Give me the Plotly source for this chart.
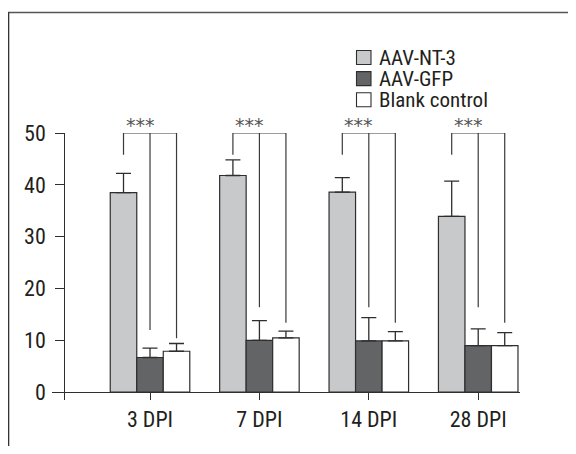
import plotly.graph_objects as go

# ---- data ----
groups = ["3 DPI", "7 DPI", "14 DPI", "28 DPI"]
series_names = ["AAV-NT-3", "AAV-GFP", "Blank control"]
nt3 = [38.5, 41.8, 38.6, 33.9]
nt3_err = [3.7, 3.0, 2.8, 6.8]
gfp = [6.7, 10.0, 9.9, 9.0]
gfp_err = [1.8, 3.8, 4.5, 3.2]
blank = [7.9, 10.5, 9.9, 9.0]
blank_err = [1.5, 1.3, 1.8, 2.5]
# significance brackets: top level and leg bottoms (left, middle, right)
bracket_top = [50, 50, 50, 50]
leg_left = [45.8, 45.8, 45.8, 45.8]
leg_mid = [12.0, 16.4, 16.4, 16.4]
leg_right = [10.4, 13.4, 13.4, 13.4]
sig_labels = ["***", "***", "***", "***"]
y_ticks = [0, 10, 20, 30, 40, 50]

# ---- geometry (page body has an 8px margin, so shift by 8) ----
OFF = 8
W, H = 576 - OFF, 454 - 2 * OFF
ML, MR, MT, MB = 52 - OFF, W - (520 - OFF), 133 - OFF, H - (400 - OFF)
PW, PH = W - ML - MR, H - MT - MB
def px2x(px):
    return (px - OFF - ML) / PW
def py2y(py):
    return (H - MB - (py - OFF)) / PH

fills = ["#c8c9cb", "#636466", "#ffffff"]
edge = "#2e2e2e"
txt = "#231f20"
FONT = "Roboto Condensed, DejaVu Sans Condensed, sans-serif"
BARGAP = 0.273
bw = (1 - BARGAP) / 3

fig = go.Figure()
for name, vals, errs, col in zip(series_names, [nt3, gfp, blank],
                                 [nt3_err, gfp_err, blank_err], fills):
    fig.add_trace(go.Bar(
        x=groups, y=vals, name=name, showlegend=False,
        marker=dict(color=col, line=dict(color=edge, width=1.2)),
        error_y=dict(type="data", array=errs, arrayminus=[0] * len(errs),
                     symmetric=False, color=edge, thickness=1.3, width=7.5),
    ))

# brackets
for i in range(len(groups)):
    xl, xm, xr = i - bw, i, i + bw
    top = bracket_top[i]
    fig.add_trace(go.Scatter(
        x=[xl, xl, xr, xr, None, xm, xm],
        y=[leg_left[i], top, top, leg_right[i], None, top, leg_mid[i]],
        mode="lines", line=dict(color="#3a3a3a", width=1.2),
        showlegend=False, hoverinfo="skip", cliponaxis=False,
        xaxis="x2",
    ))
    fig.add_annotation(x=i - 0.09, y=top, xref="x2", yref="y", text=sig_labels[i],
                       showarrow=False, yanchor="bottom", yshift=-5,
                       font=dict(family="DejaVu Sans", size=19, color="#555555"))

fig.update_layout(
    width=W, height=H,
    margin=dict(l=ML, r=MR, t=MT, b=MB, pad=0),
    paper_bgcolor="white", plot_bgcolor="white",
    barmode="group", bargap=BARGAP, bargroupgap=0,
    font=dict(family=FONT, size=22, color=txt),
    xaxis=dict(
        type="category", range=[-0.896, 3.382],
        anchor="free", position=1.5 / 51.5,
        showline=True, linecolor=edge, linewidth=1.3,
        ticks="outside", ticklen=7, tickwidth=1.3, tickcolor=edge,
        showgrid=False, zeroline=False,
        tickfont=dict(family=FONT, size=22, color=txt),
    ),
    xaxis2=dict(range=[-0.896, 3.382], overlaying="x", visible=False,
                anchor="y"),
    yaxis=dict(
        range=[-1.5, 50], anchor="free", position=px2x(64.3),
        showline=True, linecolor=edge, linewidth=1.3,
        ticks="outside", ticklen=9, tickwidth=1.3, tickcolor=edge,
        tickvals=y_ticks, showgrid=False, zeroline=False,
        ticklabelstandoff=5,
        tickfont=dict(family=FONT, size=22, color=txt),
    ),
)

# frame
fig.add_shape(type="line", xref="paper", yref="paper",
              x0=px2x(8), x1=px2x(576), y0=py2y(12.5), y1=py2y(12.5),
              line=dict(color="#555555", width=1.6))
fig.add_shape(type="line", xref="paper", yref="paper",
              x0=px2x(8.5), x1=px2x(8.5), y0=py2y(12.5), y1=py2y(460),
              line=dict(color="#333333", width=1.6))

# legend (manual)
row_y = [57.5, 78.6, 99.7]
for name, col, ry in zip(series_names, fills, row_y):
    fig.add_shape(type="rect", xref="paper", yref="paper",
                  x0=px2x(356.5), x1=px2x(371), y0=py2y(ry - 7), y1=py2y(ry + 7),
                  fillcolor=col, line=dict(color=edge, width=1.1))
    fig.add_annotation(x=px2x(377), y=py2y(ry), xref="paper", yref="paper",
                       text=name, showarrow=False, xanchor="left", yanchor="middle",
                       font=dict(family=FONT, size=21, color=txt))

fig.write_html("out.html")
